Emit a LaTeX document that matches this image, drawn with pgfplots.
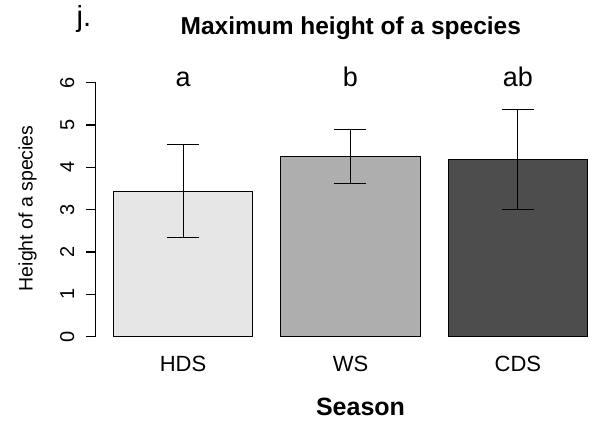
\documentclass[border=0pt]{standalone}
\usepackage{pgfplots}
\pgfplotsset{compat=1.18}
\usepackage{fontspec}
\setmainfont{Liberation Sans}
\definecolor{cHDS}{HTML}{E6E6E6}
\definecolor{cWS}{HTML}{AEAEAE}
\definecolor{cCDS}{HTML}{4D4D4D}
\pgfplotsset{
  errstyle/.style={
    error bars/y dir=both, error bars/y explicit,
    error bars/error bar style={line width=1.1bp, black},
    error bars/error mark options={rotate=90, mark size=16bp, line width=1.1bp, black}},
}
\begin{document}
\begin{tikzpicture}
\path[use as bounding box] (0,0) rectangle (592bp,423bp);
\begin{axis}[
  at={(95.7bp,86.3bp)}, anchor=south west,
  scale only axis, width=496.3bp, height=254bp,
  xmin=0.0738, xmax=3.631, ymin=0, ymax=6,
  clip=false,
  axis x line*=bottom, axis y line*=left,
  x axis line style={draw=none},
  y axis line style={line width=1.1bp},
  xtick={0.7,1.9,3.1}, xticklabels={HDS,WS,CDS},
  xtick style={draw=none},
  ytick={0,1,2,3,4,5,6},
  ytick style={line width=1.1bp, black},
  tick align=outside, major tick length=10bp,
  /pgf/number format/assume math mode=true,
  yticklabel style={rotate=90, anchor=base, inner sep=0pt, yshift=11.5bp, font=\fontsize{20bp}{22bp}\selectfont},
  xticklabel style={anchor=base, inner sep=0pt, yshift=-25bp, font=\fontsize{22bp}{24bp}\selectfont},
  title={\textbf{Maximum height of a species}},
  title style={at={(axis description cs:0.514,1.168)}, anchor=base, inner sep=0pt, font=\fontsize{24.5bp}{27bp}\selectfont},
  xlabel={\textbf{Season}},
  xlabel style={at={(axis description cs:0.5336,-0.3083)}, anchor=base, inner sep=0pt, font=\fontsize{25bp}{27bp}\selectfont},
  ylabel={Height of a species},
  ylabel style={at={(axis description cs:-0.1271,0.5055)}, rotate=0, anchor=base, inner sep=0pt, font=\fontsize{19.5bp}{21bp}\selectfont},
  every axis plot/.append style={ybar, bar width=139.53bp, bar shift=0pt, draw=black, line width=1.1bp, errstyle},
]
\addplot[fill=cHDS] coordinates {(0.7,3.44) +- (0,1.095)};
\addplot[fill=cWS] coordinates {(1.9,4.25) +- (0,0.64)};
\addplot[fill=cCDS] coordinates {(3.1,4.19) +- (0,1.175)};
\node[anchor=base, font=\fontsize{27bp}{29bp}\selectfont] at (axis cs:0.7,5.91) {a};
\node[anchor=base, font=\fontsize{27bp}{29bp}\selectfont] at (axis cs:1.9,5.91) {b};
\node[anchor=base, font=\fontsize{27bp}{29bp}\selectfont] at (axis cs:3.1,5.91) {ab};
\end{axis}
\node[anchor=base west, inner sep=0pt, font=\fontsize{29bp}{31bp}\selectfont] at (76.5bp,396.3bp) {j.};
\end{tikzpicture}
\end{document}
